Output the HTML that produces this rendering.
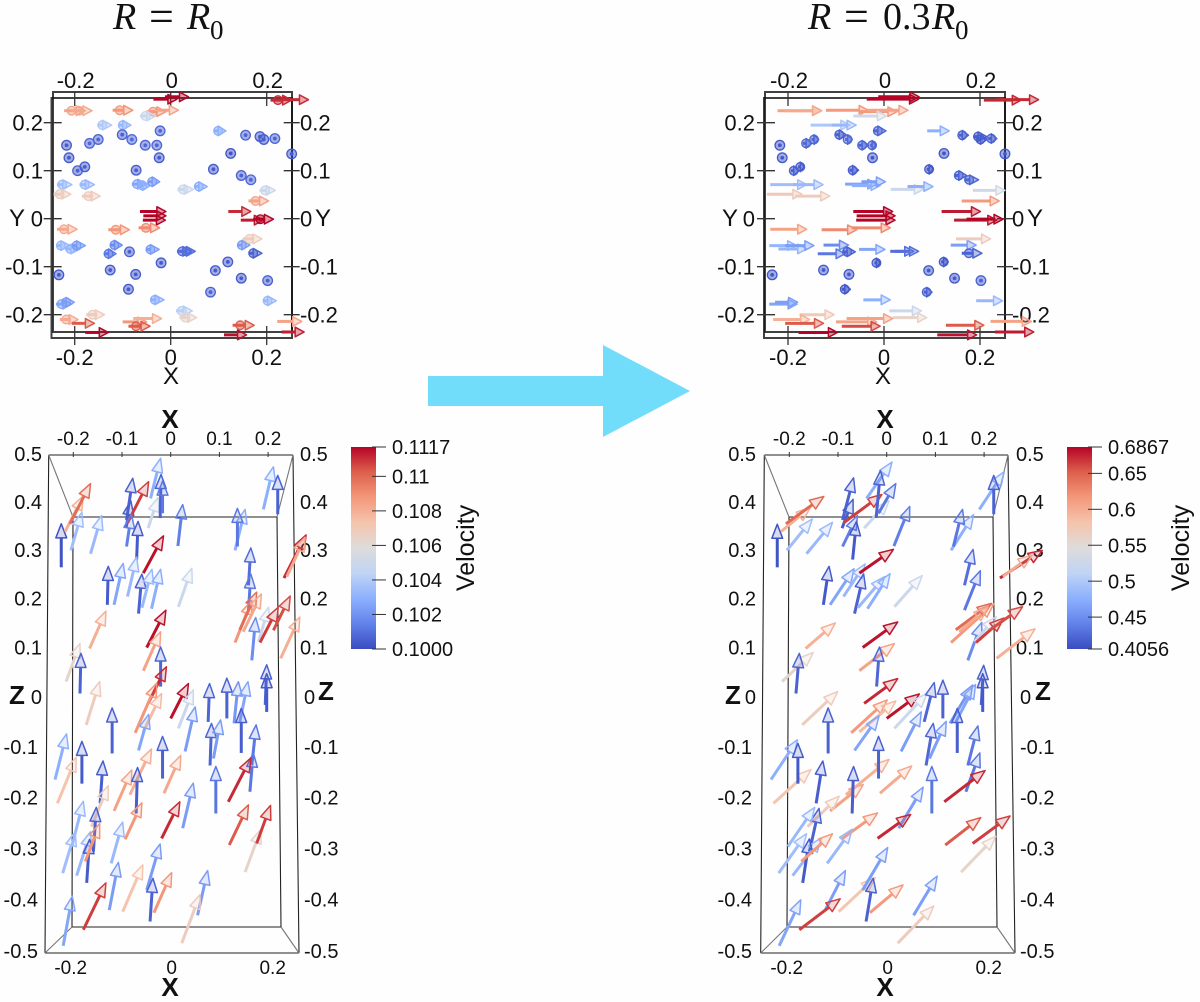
<!DOCTYPE html>
<html lang="en">
<head>
<meta charset="utf-8">
<title>Velocity field at R = R0 and R = 0.3R0</title>
<style>
html,body{margin:0;padding:0;background:#fff;}
svg{display:block;}
text{font-family:"Liberation Sans",sans-serif;fill:#111;}
.serif{font-family:"Liberation Serif",serif;font-size:38px;}
.frame{fill:none;stroke:#111;stroke-opacity:.8;}
</style>
</head>
<body>
<svg id="figure" xmlns="http://www.w3.org/2000/svg" width="1200" height="1002" viewBox="0 0 1200 1002">
  <defs>
    <linearGradient id="barGradient" x1="0" y1="1" x2="0" y2="0"></linearGradient>
  </defs>
  <rect width="1200" height="1002" fill="#fefefe"/>

  <g>
    <text class="serif" x="113" y="29" font-style="italic">R</text>
    <text class="serif" x="149" y="31" style="font-size:44px">=</text>
    <text class="serif" x="187" y="29" font-style="italic">R</text>
    <text class="serif" x="210" y="39" style="font-size:27px">0</text>
  </g>
  <g>
    <text class="serif" x="808" y="29" font-style="italic">R</text>
    <text class="serif" x="844" y="31" style="font-size:44px">=</text>
    <text class="serif" x="883" y="29">0.3</text>
    <text class="serif" x="932" y="29" font-style="italic">R</text>
    <text class="serif" x="955" y="39" style="font-size:27px">0</text>
  </g>

  <polygon points="428,376 603,376 603,345 690,391 603,437 603,406 428,406" fill="#72ddfa"/>

  <g class="frame" stroke-width="2">
    <rect x="53" y="92" width="239" height="240"/>
    <rect x="51.5" y="98" width="240.5" height="240"/>
  </g>
  <g class="frame" stroke-width="2">
    <rect x="765" y="92" width="240" height="240"/>
    <rect x="764" y="98" width="241" height="240"/>
  </g>

  <g fill="none" stroke="#222" stroke-width="1.1">
    <path d="M48.7 455H293M45 953H299M48.7 455L45 953M293 455L299 953"/>
    <path d="M73 517H277M72 927H281M73 517L72 927M277 517L281 927"/>
    <path d="M48.7 455L73 517M293 455L277 517M45 953L72 927M299 953L281 927" stroke="#777"/>
  </g>
  <g fill="none" stroke="#222" stroke-width="1.1">
    <path d="M764.3 455H1008M760.7 953H1015M764.3 455L760.7 953M1008 455L1015 953"/>
    <path d="M789 517H993M787 927H997M789 517L787 927M993 517L997 927"/>
    <path d="M764.3 455L789 517M1008 455L993 517M760.7 953L787 927M1015 953L997 927" stroke="#777"/>
  </g>

  <g id="ticks"></g>
  <g id="marks" style="filter:blur(0.35px)"></g>
  <g id="bars"></g>

  <g>
    <text x="171" y="384" font-size="24" text-anchor="middle">X</text>
    <text x="883" y="384" font-size="24" text-anchor="middle">X</text>
    <text x="9" y="226" font-size="24">Y</text>
    <text x="315" y="226" font-size="24">Y</text>
    <text x="722" y="226" font-size="24">Y</text>
    <text x="1027" y="226" font-size="24">Y</text>
    <text x="170" y="428" font-size="26" font-weight="bold" text-anchor="middle">X</text>
    <text x="170" y="996" font-size="26" font-weight="bold" text-anchor="middle">X</text>
    <text x="885" y="428" font-size="26" font-weight="bold" text-anchor="middle">X</text>
    <text x="885" y="996" font-size="26" font-weight="bold" text-anchor="middle">X</text>
    <text x="9" y="704" font-size="26" font-weight="bold">Z</text>
    <text x="318" y="700" font-size="26" font-weight="bold">Z</text>
    <text x="725" y="704" font-size="26" font-weight="bold">Z</text>
    <text x="1035" y="700" font-size="26" font-weight="bold">Z</text>
    <text transform="translate(474,548) rotate(-90)" font-size="25" text-anchor="middle">Velocity</text>
    <text transform="translate(1189,548) rotate(-90)" font-size="25" text-anchor="middle">Velocity</text>
  </g>
</svg>

<script>
/* top view (X-Y): shared glyph origins */
const topX = [-.036,-.012,.208,.235,-.222,-.206,-.121,-.051,-.033,-.064,-.153,-.109,
 -.101,-.081,-.053,-.029,-.022,-.024,-.217,-.212,-.194,-.179,-.169,-.151,-.072,
 .09,.156,.186,.194,.217,.125,.252,.089,.147,.167,
 -.237,-.19,-.081,-.067,-.047,.014,.049,.185,-.244,-.185,.162,
 -.064,-.057,-.058,-.067,.12,.146,.172,-.237,-.13,
 -.239,-.22,-.206,-.126,-.138,-.086,-.052,.013,.023,.139,.15,.162,
 -.02,-.126,-.073,-.233,-.088,.093,.119,.147,.202,.083,
 -.239,-.227,-.043,.192,.011,.018,-.176,-.231,-.206,-.178,-.1,-.078,-.088,.129,.111,.222,.231];
const topY = [.249,.254,.247,.248,.225,.225,.226,.223,.226,.214,.195,.195,
 .175,.165,.153,.153,.183,.127,.153,.127,.1,.108,.157,.165,.101,
 .183,.174,.171,.165,.167,.136,.135,.103,.09,.081,
 .071,.071,.072,.069,.077,.061,.067,.059,.051,.047,.037,
 .015,.006,-.003,-.019,.015,-.003,-.001,-.022,-.023,
 -.056,-.063,-.056,-.055,-.073,-.069,-.064,-.068,-.068,-.055,-.042,-.072,
 -.092,-.107,-.116,-.117,-.147,-.108,-.09,-.124,-.129,-.153,
 -.178,-.174,-.169,-.171,-.192,-.206,-.2,-.21,-.218,-.237,-.215,-.208,-.224,-.222,-.242,-.214,-.236];
const topUxA = [.049,.049,.044,.052,.044,.042,.042,.041,.049,.033,.03,.026,
 0,0,0,0,0,0,0,0,0,0,0,0,0,
 .025,0,0,0,0,0,0,0,0,0,
 .031,.031,.031,.024,.024,.033,.027,.033,.036,.038,.042,
 .054,.047,.047,.044,.047,.047,.042,.042,.044,
 .029,.031,.028,.025,.024,0,.028,.031,.028,.026,.04,.028,
 0,0,0,0,0,0,0,0,0,0,
 .033,.026,.029,.028,.034,.036,.038,.038,.047,.048,.05,.059,.045,.045,.047,.051,.047];
const topUxB = [.108,.085,.078,.087,.092,.076,.088,.078,.083,.069,.082,.051,
 .022,.015,.021,.012,.026,0,0,0,.017,.013,.019,.015,.019,
 .046,.02,.028,.02,.018,0,0,.014,.025,.03,
 .076,.063,.066,.059,.05,.068,.053,.067,.073,.072,.078,
 .082,.08,.081,.08,.081,.089,.076,.076,.073,
 .057,.059,.06,.052,.057,.026,.054,.049,.049,.053,.072,.042,
 .012,0,0,0,.018,0,.015,0,0,.017,
 .058,.047,.056,.055,.067,.071,.072,.076,.08,.081,.085,.096,.08,.079,.082,.085,.081];
const topVelA = [.1117,.1117,.1111,.1111,.1084,.1082,.1088,.1088,.1084,.1049,.1039,.1033,
 .1006,.1008,.1007,.1007,.1007,.1004,.1004,.1004,.1006,.1005,.1007,.1007,.1005,
 .1029,.1006,.1005,.1005,.1006,.1002,.1004,.1004,.1006,.1007,
 .1035,.1033,.1026,.1029,.1023,.1049,.1029,.1049,.1068,.1068,.1084,
 .1117,.1117,.1117,.1091,.1111,.1113,.1117,.1082,.1088,
 .1032,.1032,.1023,.1018,.1012,.1006,.1023,.1009,.1009,.1023,.1068,.1006,
 .1004,.1004,.1004,.1004,.1004,.1004,.1004,.1004,.1006,.1006,
 .1026,.1023,.1029,.1033,.1042,.1064,.1068,.1082,.1103,.1117,.1088,.108,.1103,.1103,.1115,.1084,.1113];
const topVelB = [.687,.687,.673,.673,.608,.602,.616,.616,.608,.532,.498,.484,
 .42,.425,.423,.423,.423,.414,.414,.414,.42,.417,.423,.423,.417,
 .476,.42,.417,.417,.42,.411,.414,.414,.42,.423,
 .49,.484,.467,.476,.462,.524,.476,.532,.574,.569,.616,
 .687,.687,.687,.625,.678,.678,.687,.608,.625,
 .482,.482,.462,.448,.434,.42,.467,.428,.428,.462,.569,.42,
 .414,.414,.414,.414,.414,.414,.414,.414,.42,.42,
 .467,.462,.476,.484,.524,.56,.574,.597,.653,.687,.608,.608,.66,.653,.681,.608,.678];

/* side view (X-Z): shared glyph origins */
const sideX = [-.228,-.22,-.21,-.208,-.167,-.092,-.093,-.09,-.092,-.071,-.042,-.047,-.022,-.017,.015,.134,.139,.193,.223,-.132,-.118,-.09,-.067,-.06,-.04,-.057,.016,.162,.162,.236,.242,.134,.144,.151,.169,.183,.186,.214,.229,-.169,-.218,-.189,-.05,-.057,-.021,
 -.047,-.074,-.057,-.067,-.176,0,.016,.03,-.122,.078,.117,.132,.144,.197,.2,.082,.089,.147,.165,.169,-.241,-.236,-.185,-.147,-.118,-.085,-.017,-.014,-.072,-.095,.094,.12,-.165,-.161,.025,-.019,.122,.155,.179,-.206,-.225,-.196,-.175,-.178,-.124,-.128,-.1,-.05,-.043,-.035,.056,.023,-.182,-.224];
const sideZ = [.264,.338,.354,.299,.292,.362,.345,.356,.307,.28,.407,.345,.366,.376,.308,.299,.307,.384,.374,.187,.187,.204,.169,.181,.179,.252,.183,.227,.176,.242,.245,.11,.136,.132,.074,.112,.11,.135,.078,.098,.031,.007,.1,.053,.021,
 -.013,-.072,-.07,-.107,-.056,-.043,-.063,-.109,-.113,-.05,-.043,-.053,-.05,-.016,-.03,-.137,-.123,-.112,-.189,-.137,-.165,-.212,-.173,-.212,-.227,-.195,-.163,-.192,-.232,-.283,-.232,-.209,-.258,-.307,-.261,-.281,-.294,-.347,-.291,-.297,-.349,-.354,-.368,-.326,-.33,-.421,-.424,-.382,-.443,-.426,-.431,-.485,-.459,-.49];
const sideUxC = [0,.038,.043,.023,.023,.013,.01,.044,.01,.003,.021,.021,.002,0,.01,.021,0,.021,0,.002,.019,.019,.007,.021,.019,.042,.028,.005,.005,.046,.038,.035,.035,.038,.008,.021,.038,.035,.04,.034,.029,.002,.04,.036,0,
 .038,.045,.038,.021,.028,.037,.031,.021,0,.003,0,.009,.017,.003,0,.003,.015,0,.007,.009,.024,.039,0,.006,.037,.045,0,.035,.003,.035,0,.047,.035,.006,.022,.038,.04,.033,.029,.024,.026,.029,.006,.03,.024,.019,.042,.028,.006,.037,.021,.038,.047,.019];
const sideUzC = [.09,.074,.084,.079,.079,.087,.057,.086,.067,.079,.084,.064,.091,.067,.086,.085,.079,.089,.081,.079,.085,.081,.081,.079,.081,.077,.079,.077,.074,.089,.081,.086,.077,.077,.087,.07,.072,.07,.084,.076,.077,.081,.076,.079,.08,
 .074,.1,.077,.072,.087,.07,.077,.089,.091,.077,.081,.084,.081,.081,.077,.084,.077,.089,.077,.081,.091,.091,.084,.084,.081,.091,.084,.075,.091,.072,.093,.087,.081,.087,.089,.072,.079,.084,.075,.089,.081,.086,.085,.074,.081,.093,.091,.09,.084,.078,.087,.094,.091,.096];
const sideUxD = [0,.061,.079,.053,.054,.023,.023,.08,.031,.008,.053,.052,.009,.036,.033,.047,.019,.052,0,.012,.05,.045,.019,.056,.047,.071,.058,.018,.033,.088,.061,.089,.074,.06,.029,.045,.058,.069,.08,.062,.065,.007,.073,.073,.006,
 .07,.075,.076,.051,.074,.068,.068,.042,0,.021,0,.047,.041,.005,0,.015,.035,0,.029,.021,.055,.078,0,.014,.069,.09,0,.066,.003,.076,0,.085,.066,.02,.051,.069,.074,.072,.078,.056,.058,.06,.014,.065,.052,.042,.076,.052,.015,.069,.049,.075,.085,.045];
const sideUzD = [.089,.05,.057,.065,.065,.088,.06,.059,.064,.079,.076,.057,.099,.062,.082,.074,.077,.079,.081,.079,.074,.067,.081,.064,.072,.049,.064,.074,.081,.057,.044,.079,.054,.05,.077,.05,.05,.048,.06,.052,.059,.081,.052,.055,.08,
 .05,.066,.062,.069,.067,.049,.07,.079,.091,.079,.077,.077,.075,.08,.077,.084,.074,.089,.077,.079,.079,.067,.08,.084,.052,.07,.084,.054,.093,.052,.093,.062,.06,.085,.081,.047,.054,.07,.054,.077,.077,.074,.086,.054,.067,.077,.066,.083,.084,.054,.076,.072,.06,.089];
const sideVelC = [.1002,.108,.1099,.1035,.1033,.1006,.1005,.1108,.1014,.1004,.1029,.1049,.1006,.1012,.1014,.1029,.1012,.1029,.1006,.1004,.1026,.1033,.1006,.1033,.1029,.1115,.1049,.1009,.1012,.1111,.1082,.1088,.1099,.1082,.1018,.1049,.1108,.1105,.108,.108,.1064,.1006,.1115,.1084,.1007,
 .1111,.1088,.1076,.1026,.1068,.1115,.1049,.1023,.1006,.1007,.1006,.1021,.1026,.1006,.1004,.1007,.1023,.1005,.1012,.1012,.1029,.1073,.1004,.1005,.1084,.108,.1006,.1082,.1005,.1088,.1012,.1111,.1068,.1006,.1023,.1111,.1103,.1064,.1108,.1033,.1035,.1033,.1004,.1088,.1033,.1023,.1073,.1023,.1006,.1088,.1023,.1068,.1108,.1026];
const sideVelD = [.411,.597,.645,.49,.484,.42,.417,.664,.439,.414,.476,.524,.42,.434,.439,.476,.434,.476,.42,.414,.467,.484,.42,.484,.476,.681,.524,.428,.434,.673,.602,.616,.645,.602,.448,.524,.664,.659,.597,.597,.56,.42,.681,.608,.423,
 .673,.616,.588,.467,.569,.681,.524,.462,.42,.423,.42,.456,.467,.42,.414,.423,.462,.417,.434,.434,.476,.58,.414,.417,.608,.597,.42,.602,.417,.616,.434,.673,.569,.42,.462,.673,.653,.56,.664,.484,.49,.484,.414,.616,.484,.462,.58,.462,.42,.616,.462,.569,.664,.467];

/* axis ticks */
const topXTicks = [-.2,0,.2];
const topXTickLabels = ['-0.2','0','0.2'];
const topYTicks = [.2,.1,0,-.1,-.2];
const topYTickLabels = ['0.2','0.1','0','-0.1','-0.2'];
const sideTopTicks = [-.2,-.1,0,.1,.2];
const sideTopTickLabels = ['-0.2','-0.1','0','0.1','0.2'];
const sideBottomTicks = [-.2,0,.2];
const sideBottomTickLabels = ['-0.2','0','0.2'];
const sideZTicks = [.5,.4,.3,.2,.1,0,-.1,-.2,-.3,-.4,-.5];
const sideZTickLabels = ['0.5','0.4','0.3','0.2','0.1','0','-0.1','-0.2','-0.3','-0.4','-0.5'];

/* colour legends */
const legendTicksLeft = [.1117,.11,.108,.106,.104,.102,.1];
const legendLabelsLeft = ['0.1117','0.11','0.108','0.106','0.104','0.102','0.1000'];
const legendTicksRight = [.6867,.65,.6,.55,.5,.45,.4056];
const legendLabelsRight = ['0.6867','0.65','0.6','0.55','0.5','0.45','0.4056'];
const coolWarm = [[59,76,192],[98,130,234],[141,176,254],[192,212,245],[221,220,219],[245,196,173],[244,152,122],[222,96,77],[180,4,38]];

const NS = 'http://www.w3.org/2000/svg';
const tickLayer = document.getElementById('ticks');
const markLayer = document.getElementById('marks');
const barLayer = document.getElementById('bars');

function colorFor(t) {
  const c = Math.max(0, Math.min(1, t)) * (coolWarm.length - 1);
  const i = Math.min(coolWarm.length - 2, Math.floor(c));
  const f = c - i;
  const a = coolWarm[i], b = coolWarm[i + 1];
  return 'rgb(' + [0, 1, 2].map(k => Math.round(a[k] + (b[k] - a[k]) * f)).join(',') + ')';
}

const gradient = document.getElementById('barGradient');
coolWarm.forEach((c, i) => {
  const st = document.createElementNS(NS, 'stop');
  st.setAttribute('offset', i / (coolWarm.length - 1));
  st.setAttribute('stop-color', 'rgb(' + c.join(',') + ')');
  gradient.appendChild(st);
});

function addLabel(parent, txt, x, y, size, anchor) {
  const el = document.createElementNS(NS, 'text');
  
  
  el.setAttribute('x', x);
  el.setAttribute('y', y + size * 0.36);
  el.setAttribute('font-size', size);
  el.setAttribute('text-anchor', anchor);
  el.textContent = txt;
  parent.appendChild(el);
}

function addTick(parent, x1, y1, x2, y2, width) {
  const el = document.createElementNS(NS, 'line');
  
  
  el.setAttribute('x1', x1);
  el.setAttribute('y1', y1);
  el.setAttribute('x2', x2);
  el.setAttribute('y2', y2);
  el.setAttribute('stroke', '#333');
  el.setAttribute('stroke-width', width);
  parent.appendChild(el);
}

function addDisc(parent, cx, cy, r, color) {
  const ring = document.createElementNS(NS, 'circle');
  ring.setAttribute('cx', cx);
  ring.setAttribute('cy', cy);
  ring.setAttribute('r', r);
  ring.setAttribute('fill', color);
  ring.setAttribute('fill-opacity', '.5');
  ring.setAttribute('stroke', color);
  ring.setAttribute('stroke-width', '1.3');
  parent.appendChild(ring);
}

function addArrow(name, sx0, sy0, sx1, sy1, color, style) {
  const g = document.createElementNS(NS, 'g');
  
  
  const dx = sx1 - sx0, dy = sy1 - sy0;
  const len = Math.hypot(dx, dy);
  if (len < 1.5) {
    addDisc(g, sx0, sy0, style.hw, color);
    const dot = document.createElementNS(NS, 'circle');
    dot.setAttribute('cx', sx0);
    dot.setAttribute('cy', sy0);
    dot.setAttribute('r', '1.9');
    dot.setAttribute('fill', color);
    g.appendChild(dot);
  } else {
    if (style.fish && len < 22) {
      addDisc(g, sx0 + (sx1 - sx0) * 0.35, sy0 + (sy1 - sy0) * 0.35, style.hw * 0.9, color);
    }
    const hl = Math.min(style.hl, len * 0.65);
    const ux = dx / len, uy = dy / len;
    const bx = sx1 - ux * hl, by = sy1 - uy * hl;
    const shaft = document.createElementNS(NS, 'line');
    shaft.setAttribute('x1', sx0);
    shaft.setAttribute('y1', sy0);
    shaft.setAttribute('x2', bx);
    shaft.setAttribute('y2', by);
    shaft.setAttribute('stroke', color);
    shaft.setAttribute('stroke-width', style.sw);
    g.appendChild(shaft);
    const head = document.createElementNS(NS, 'polygon');
    head.setAttribute('points', [sx1, sy1, bx - uy * style.hw, by + ux * style.hw, bx + uy * style.hw, by - ux * style.hw].join(' '));
    head.setAttribute('fill', color);
    head.setAttribute('fill-opacity', style.fill);
    head.setAttribute('stroke', color);
    head.setAttribute('stroke-width', '1.5');
    head.setAttribute('stroke-linejoin', 'round');
    g.appendChild(head);
  }
  markLayer.appendChild(g);
}

/* top-view panel */
function drawTop(x0, ux, vel, vMin, vMax, name, leftEnd, rightStart) {
  const xScale = v => x0 + 480 * v;
  const yScale = v => 218.7 - 480 * v;
  const xLeft = xScale(-.25) - 1, xRight = xScale(.25) + 1;
  topXTicks.forEach((t, i) => {
    addTick(tickLayer, xScale(t), 92, xScale(t), 106, 1.3);
    addTick(tickLayer, xScale(t), 326, xScale(t), 345, 1.3);
    addLabel(tickLayer, topXTickLabels[i], xScale(t) + 1, 80, 22, 'middle');
    addLabel(tickLayer, topXTickLabels[i], xScale(t), 357, 22, 'middle');
  });
  topYTicks.forEach((t, i) => {
    addTick(tickLayer, xLeft - 6, yScale(t), xLeft + 12, yScale(t), 1.3);
    addTick(tickLayer, xRight - 8, yScale(t), xRight + 8, yScale(t), 1.3);
    addLabel(tickLayer, topYTickLabels[i], leftEnd, yScale(t), 22, 'end');
    addLabel(tickLayer, topYTickLabels[i], rightStart, yScale(t), 22, 'start');
  });
  topX.forEach((x, i) => {
    const color = colorFor((vel[i] - vMin) / (vMax - vMin));
    addArrow(name, xScale(x), yScale(topY[i]), xScale(x + ux[i]), yScale(topY[i]), color, {sw: 3, hl: 9, hw: 4.8, fill: '.4', fish: true});
  });
}

/* side-view panel */
function drawSide(x0, ux, uz, vel, vMin, vMax, name, leftEnd, rightStart) {
  const xScale = v => x0 + 480 * v;
  const zScale = v => 697 - 497 * v + 22 * v * v;
  sideTopTicks.forEach((t, i) => {
    addTick(tickLayer, x0 + 487 * t, 452, x0 + 487 * t, 457, 1);
    addLabel(tickLayer, sideTopTickLabels[i], x0 + 487 * t, 438, 19, 'middle');
  });
  sideBottomTicks.forEach((t, i) => {
    addLabel(tickLayer, sideBottomTickLabels[i], x0 + 505 * t + 1, 967, 19, 'middle');
  });
  sideZTicks.forEach((t, i) => {
    const neg = t < 0 ? -4 : 0;
    addLabel(tickLayer, sideZTickLabels[i], leftEnd + neg, zScale(t), 20, 'end');
    addLabel(tickLayer, sideZTickLabels[i], rightStart + (t < .1 ? 4 : 0), zScale(t), 20, 'start');
  });
  sideX.forEach((x, i) => {
    const color = colorFor((vel[i] - vMin) / (vMax - vMin));
    addArrow(name, xScale(x), zScale(sideZ[i]), xScale(x + ux[i]), zScale(sideZ[i] + uz[i]), color, {sw: 3, hl: 14, hw: 5.4, fill: '.2', fish: false});
  });
}

function drawLegend(x, ticks, labels, vMin, vMax, name) {
  const top = 447, bottom = 649;
  const bar = document.createElementNS(NS, 'rect');
  
  
  bar.setAttribute('x', x);
  bar.setAttribute('y', top);
  bar.setAttribute('width', 25);
  bar.setAttribute('height', bottom - top);
  bar.setAttribute('fill', 'url(#barGradient)');
  barLayer.appendChild(bar);
  const scale = v => bottom - (v - vMin) / (vMax - vMin) * (bottom - top);
  ticks.forEach((t, i) => {
    addTick(barLayer, x + 21, scale(t), x + 35, scale(t), 1);
    addLabel(barLayer, labels[i], x + 41, scale(t), 20, 'start');
  });
}

drawTop(170.7, topUxA, topVelA, .1, .1117, 'xy-arrow-r0', 43, 300);
drawTop(884, topUxB, topVelB, .4056, .6867, 'xy-arrow-03r0', 755, 1012);
drawSide(170.7, sideUxC, sideUzC, sideVelC, .1, .1117, 'xz-arrow-r0', 42, 300);
drawSide(886.7, sideUxD, sideUzD, sideVelD, .4056, .6867, 'xz-arrow-03r0', 756, 1016);
drawLegend(351, legendTicksLeft, legendLabelsLeft, .1, .1117, 'colorbar-r0');
drawLegend(1067, legendTicksRight, legendLabelsRight, .4056, .6867, 'colorbar-03r0');
</script>
</body>
</html>
